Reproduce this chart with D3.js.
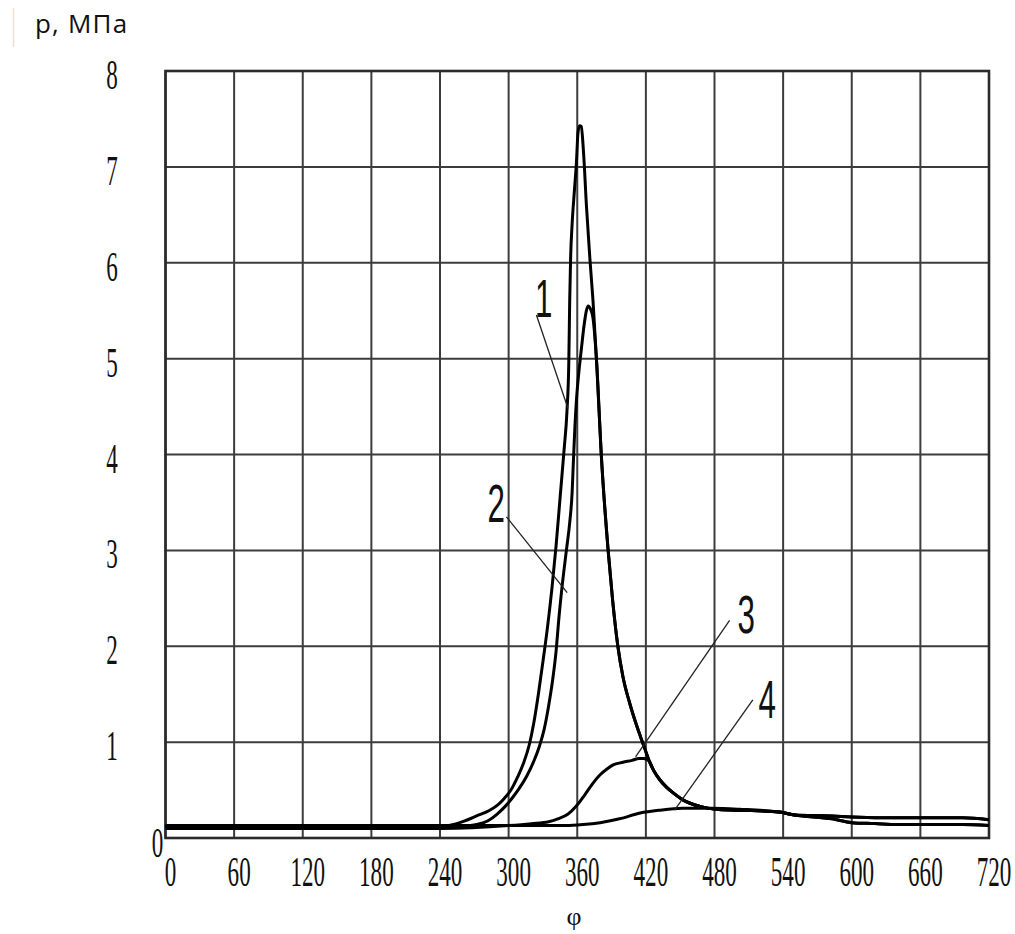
<!DOCTYPE html>
<html>
<head>
<meta charset="utf-8">
<script src="https://cdn.jsdelivr.net/npm/d3@7/dist/d3.min.js"></script>
<style>
  html, body { margin: 0; padding: 0; background: #fff; }
  svg { display: block; }
</style>
</head>
<body>
<svg id="chart" width="1015" height="934"></svg>
<script>
// Crank angle ticks (deg) and pressure ticks (MPa)
const phiTicks = [0, 60, 120, 180, 240, 300, 360, 420, 480, 540, 600, 660, 720];
const pTicks = [0, 1, 2, 3, 4, 5, 6, 7, 8];

// Cylinder pressure p(φ), MPa — curve 1
const curve1 = [
  [0, 0.12], [120, 0.12], [240, 0.12], [252, 0.14], [262, 0.18], [272, 0.23], [282, 0.28],
  [290, 0.34], [296, 0.41], [302, 0.5], [308, 0.64], [313, 0.78], [318, 0.97], [322, 1.2],
  [326, 1.5], [330, 1.84], [334, 2.2], [338, 2.62], [341.5, 3.05], [345, 3.55], [348.5, 4.05],
  [351, 4.45], [352.6, 4.95], [353.4, 5.6], [354.2, 6.05], [355.5, 6.4], [357.5, 6.75],
  [359.3, 7.05], [360.6, 7.35], [362, 7.43], [363.5, 7.42], [365.5, 7.15], [368, 6.6],
  [371, 6.05], [373.8, 5.6], [377, 4.95], [381, 4.0], [387, 3.0], [391, 2.47], [395.5, 2.0],
  [400, 1.68], [406, 1.4], [412, 1.17], [417, 1.0], [420, 0.9], [423, 0.8], [427, 0.7],
  [432, 0.61], [438, 0.53], [445, 0.46], [452, 0.4], [467, 0.33], [481, 0.3], [502, 0.29],
  [537, 0.27], [550, 0.24], [583, 0.23], [600, 0.22], [640, 0.21], [697, 0.21], [720, 0.19]
];

// curve 2
const curve2 = [
  [0, 0.11], [120, 0.11], [240, 0.11], [260, 0.12], [272, 0.14], [282, 0.18], [290, 0.25],
  [297, 0.33], [304, 0.43], [310, 0.53], [316, 0.65], [322, 0.8], [327, 0.96], [331, 1.13],
  [335, 1.38], [338.5, 1.65], [341.5, 1.95], [344, 2.3], [347, 2.65], [350.5, 3.0],
  [353.5, 3.3], [355.5, 3.6], [356.7, 3.95], [358, 4.3], [359.5, 4.6], [361.5, 4.87],
  [363.6, 5.1], [366, 5.35], [368, 5.5], [369.6, 5.55], [371.5, 5.52], [373.8, 5.42],
  [377, 4.95], [381, 4.0], [387, 3.0], [391, 2.47], [395.5, 2.0], [400, 1.68], [406, 1.4],
  [412, 1.17], [417, 1.0], [420, 0.9], [423, 0.8], [427, 0.7], [432, 0.61], [438, 0.53],
  [445, 0.46], [452, 0.4], [467, 0.33], [481, 0.3], [502, 0.29], [537, 0.27], [550, 0.24],
  [583, 0.23], [600, 0.22], [640, 0.21], [697, 0.21], [720, 0.19]
];

// curve 3
const curve3 = [
  [0, 0.1], [120, 0.1], [240, 0.1], [300, 0.13], [320, 0.15], [335, 0.17], [343, 0.2],
  [352, 0.25], [359, 0.33], [366, 0.44], [373, 0.56], [380, 0.66], [386, 0.72], [391, 0.76],
  [400, 0.79], [408, 0.81], [414, 0.83], [418, 0.83], [421, 0.82], [423, 0.8], [427, 0.7],
  [432, 0.61], [438, 0.53], [445, 0.46], [452, 0.4], [467, 0.33], [481, 0.3], [502, 0.29],
  [537, 0.27], [550, 0.24], [583, 0.2], [600, 0.16], [620, 0.15], [640, 0.14], [697, 0.14],
  [720, 0.13]
];

// curve 4
const curve4 = [
  [0, 0.13], [120, 0.13], [240, 0.13], [300, 0.13], [350, 0.13], [365, 0.14], [380, 0.16],
  [397, 0.2], [415, 0.26], [432, 0.29], [452, 0.31], [478, 0.31], [502, 0.3], [537, 0.27],
  [550, 0.24], [583, 0.2], [600, 0.16], [620, 0.15], [640, 0.14], [697, 0.14], [720, 0.13]
];

// Curve numbers with leader lines: label anchor [φ, p] and leader [start, end] in [φ, p]
const curveLabels = ["1", "2", "3", "4"];
const labelPos = [[330.7, 5.43], [289.2, 3.30], [507.8, 2.14], [526, 1.25]];
const leaderLines = [
  [[324.3, 5.455], [351.9, 4.48]],
  [[298.1, 3.35], [351.2, 2.56]],
  [[493.2, 2.27], [411, 0.845]],
  [[513.5, 1.44], [445.1, 0.29]]
];

const svg = d3.select("#chart");

const x = d3.scaleLinear().domain([0, 720]).range([165.5, 989]);
const y = d3.scaleLinear().domain([0, 8]).range([838, 71]);

// grid
const grid = svg.append("g");
grid.selectAll("line.v").data(phiTicks).join("line")
  .attr("class", "v")
  .attr("x1", d => x(d)).attr("x2", d => x(d))
  .attr("y1", y(8)).attr("y2", y(0))
  .attr("stroke", "#3c3c3c").attr("stroke-width", 2);
grid.selectAll("line.h").data(pTicks).join("line")
  .attr("class", "h")
  .attr("x1", x(0)).attr("x2", x(720))
  .attr("y1", d => y(d)).attr("y2", d => y(d))
  .attr("stroke", "#3c3c3c").attr("stroke-width", 2);

// frame
svg.append("rect")
  .attr("x", x(0)).attr("y", y(8))
  .attr("width", x(720) - x(0)).attr("height", y(0) - y(8))
  .attr("fill", "none").attr("stroke", "#2a2a2a").attr("stroke-width", 2.6);

// tick labels: tall condensed serif digits
const tickFont = "'Liberation Serif', 'DejaVu Serif', serif";
svg.append("g").selectAll("text").data(phiTicks).join("text")
  .attr("transform", d => `translate(${x(d) + 5},${y(0) + 48}) scale(0.55,1)`)
  .attr("text-anchor", "middle")
  .attr("font-family", tickFont).attr("font-size", 42).attr("fill", "#111")
  .text(d => d);

svg.append("g").selectAll("text").data(pTicks).join("text")
  .attr("transform", d => d === 0
    ? `translate(157.5,${y(d) + 19}) scale(0.55,1)`
    : `translate(112,${y(d) + 18}) scale(0.55,1)`)
  .attr("text-anchor", "middle")
  .attr("font-family", tickFont).attr("font-size", 42).attr("fill", "#111")
  .text(d => d);

// pressure curves
const line = d3.line()
  .x(d => x(d[0]))
  .y(d => y(d[1]))
  .curve(d3.curveMonotoneX);

const series = [curve1, curve2, curve3, curve4];
svg.append("g").selectAll("path").data(series).join("path")
  .attr("d", line)
  .attr("fill", "none")
  .attr("stroke", "#000")
  .attr("stroke-width", 3)
  .attr("stroke-linejoin", "round");

// leader lines
svg.append("g").selectAll("line").data(leaderLines).join("line")
  .attr("x1", d => x(d[0][0])).attr("y1", d => y(d[0][1]))
  .attr("x2", d => x(d[1][0])).attr("y2", d => y(d[1][1]))
  .attr("stroke", "#222").attr("stroke-width", 1.3);

// curve numbers
svg.append("g").selectAll("text").data(curveLabels).join("text")
  .attr("transform", (d, i) => `translate(${x(labelPos[i][0])},${y(labelPos[i][1])}) scale(0.58,1)`)
  .attr("text-anchor", "middle")
  .attr("font-family", "'Liberation Sans', Arial, sans-serif")
  .attr("font-size", 54).attr("fill", "#111")
  .text(d => d);

// axis titles
svg.append("line")
  .attr("x1", 13.5).attr("x2", 13.5).attr("y1", 8).attr("y2", 47)
  .attr("stroke", "#eadfd2").attr("stroke-width", 1.5);

svg.append("text")
  .attr("x", 35).attr("y", 33)
  .attr("font-family", "'Open Sans', 'Noto Sans', sans-serif")
  .attr("font-size", 26).attr("letter-spacing", 1.2).attr("fill", "#111")
  .text("p, МПа");

svg.append("text")
  .attr("x", 574).attr("y", 925)
  .attr("text-anchor", "middle")
  .attr("font-family", "'Liberation Serif', 'DejaVu Serif', serif")
  .attr("font-size", 26).attr("fill", "#111")
  .text("φ");
</script>
</body>
</html>
